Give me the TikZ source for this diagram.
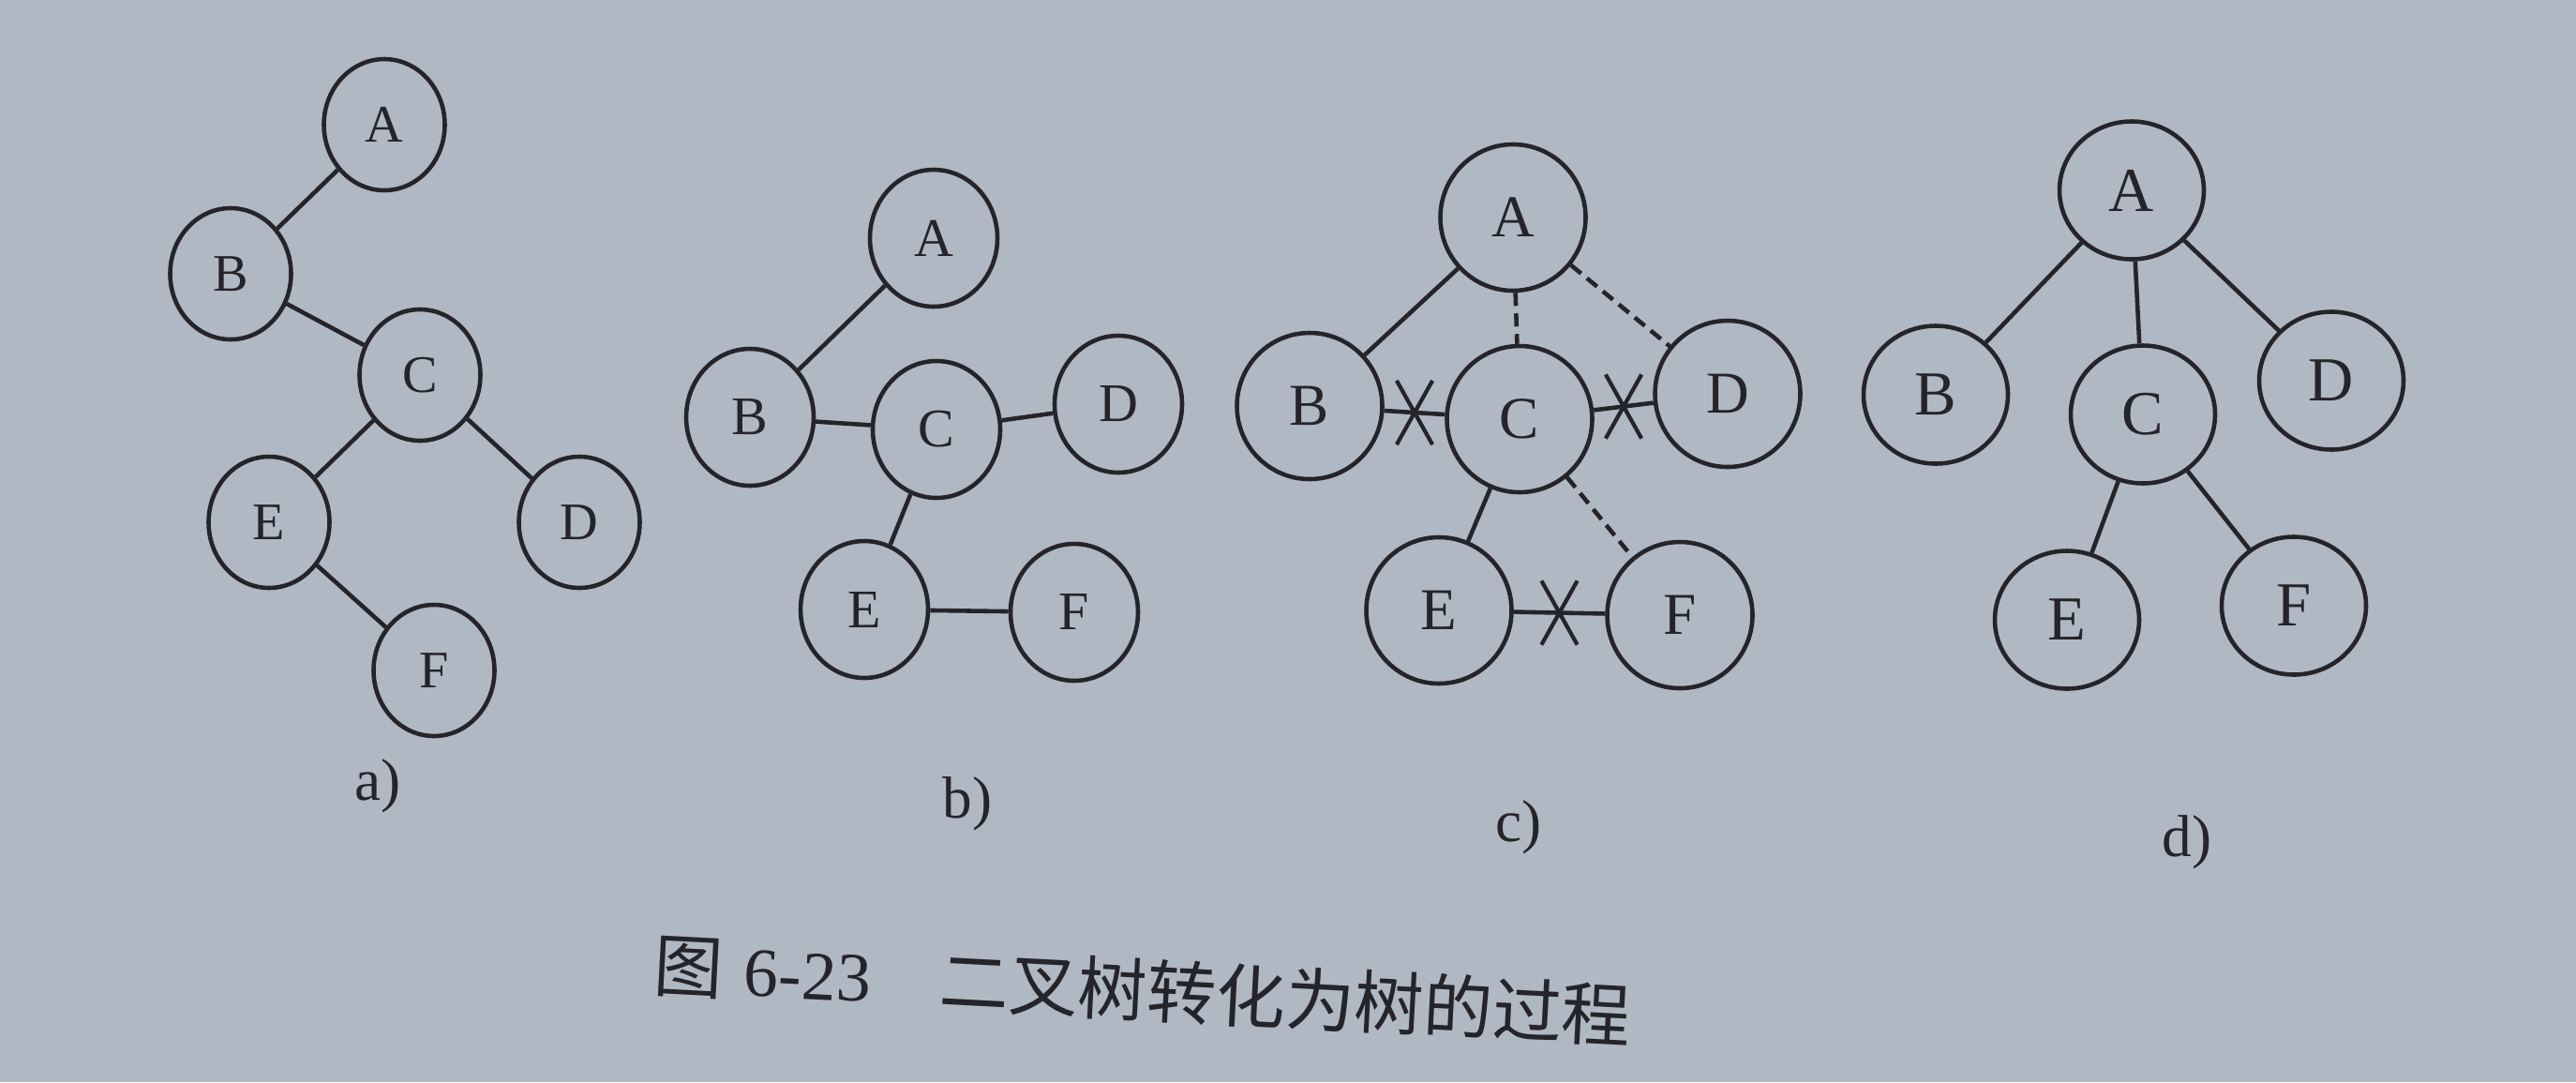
\documentclass[tikz,border=0pt]{standalone}
\usepackage{fontspec}
\setmainfont{Liberation Serif}
\newfontfamily\cjk{Noto Sans CJK SC}
\usetikzlibrary{shapes.geometric,shapes.misc}
\definecolor{paper}{RGB}{176,184,196}
\definecolor{ink}{RGB}{36,36,42}

\begin{document}
\begin{tikzpicture}[
  vertex/.style={ellipse,draw=ink,line width=1.3pt,text=ink,inner sep=0pt},
  sizea/.style={vertex,minimum width=1.29cm,minimum height=1.40cm,
    font=\fontsize{16}{19}\selectfont},
  sizeb/.style={vertex,minimum width=1.36cm,minimum height=1.46cm,
    font=\fontsize{16.5}{19}\selectfont},
  sizec/.style={vertex,minimum width=1.55cm,minimum height=1.56cm,
    font=\fontsize{18}{21}\selectfont},
  sized/.style={vertex,minimum width=1.54cm,minimum height=1.47cm,
    font=\fontsize{19}{22}\selectfont},
  edge/.style={draw=ink,line width=1.3pt},
  gone/.style={edge,dash pattern=on 0.14cm off 0.08cm},
  cut/.style={cross out,draw=ink,line width=1.2pt,minimum width=0.34cm,
    minimum height=0.64cm,inner sep=0pt},
  sub/.style={text=ink,font=\fontsize{18}{21}\selectfont}]
\fill[paper] (0,0) rectangle (27.48,-11.54);
\useasboundingbox (0,0) rectangle (27.48,-11.54);

% a)
\node[sizea] (aA) at (4.10,-1.33) {A};
\node[sizea] (aB) at (2.46,-2.92) {B};
\node[sizea] (aC) at (4.48,-4.00) {C};
\node[sizea] (aE) at (2.87,-5.57) {E};
\node[sizea] (aD) at (6.18,-5.57) {D};
\node[sizea] (aF) at (4.63,-7.15) {F};
\draw[edge] (aA) -- (aB);
\draw[edge] (aB) -- (aC);
\draw[edge] (aC) -- (aE);
\draw[edge] (aC) -- (aD);
\draw[edge] (aE) -- (aF);
\node[sub] (la) at (4.03,-8.38) {a)};

% b)
\node[sizeb] (bA) at (9.96,-2.54) {A};
\node[sizeb] (bB) at (8.00,-4.45) {B};
\node[sizeb] (bC) at (9.99,-4.58) {C};
\node[sizeb] (bD) at (11.93,-4.31) {D};
\node[sizeb] (bE) at (9.22,-6.50) {E};
\node[sizeb] (bF) at (11.46,-6.53) {F};
\draw[edge] (bA) -- (bB);
\draw[edge] (bB) -- (bC);
\draw[edge] (bC) -- (bD);
\draw[edge] (bC) -- (bE);
\draw[edge] (bE) -- (bF);
\node[sub] (lb) at (10.32,-8.57) {b)};

% c)
\node[sizec] (cA) at (16.14,-2.32) {A};
\node[sizec] (cB) at (13.97,-4.33) {B};
\node[sizec] (cC) at (16.21,-4.47) {C};
\node[sizec] (cD) at (18.43,-4.20) {D};
\node[sizec] (cE) at (15.35,-6.51) {E};
\node[sizec] (cF) at (17.92,-6.56) {F};
\draw[edge] (cA) -- (cB);
\draw[gone] (cA) -- (cC);
\draw[gone] (cA) -- (cD);
\draw[edge] (cB) -- node[cut] (xBC) {} (cC);
\draw[edge] (cC) -- node[cut] (xCD) {} (cD);
\draw[edge] (cC) -- (cE);
\draw[gone] (cC) -- (cF);
\draw[edge] (cE) -- node[cut] (xEF) {} (cF);
\node[sub] (lc) at (16.20,-8.82) {c)};

% d)
\node[sized] (dA) at (22.74,-2.03) {A};
\node[sized] (dB) at (20.65,-4.21) {B};
\node[sized] (dC) at (22.86,-4.42) {C};
\node[sized] (dD) at (24.87,-4.06) {D};
\node[sized] (dE) at (22.05,-6.61) {E};
\node[sized] (dF) at (24.47,-6.46) {F};
\draw[edge] (dA) -- (dB);
\draw[edge] (dA) -- (dC);
\draw[edge] (dA) -- (dD);
\draw[edge] (dC) -- (dE);
\draw[edge] (dC) -- (dF);
\node[sub] (ld) at (23.33,-8.98) {d)};

\node[text=ink,anchor=west,rotate=-3,font=\fontsize{21}{24}\selectfont] (cap)
  at (6.86,-10.28) {{\cjk 图}\hspace{0.3em}6-23\hspace{1em}{\cjk 二叉树转化为树的过程}};
\end{tikzpicture}
\end{document}
